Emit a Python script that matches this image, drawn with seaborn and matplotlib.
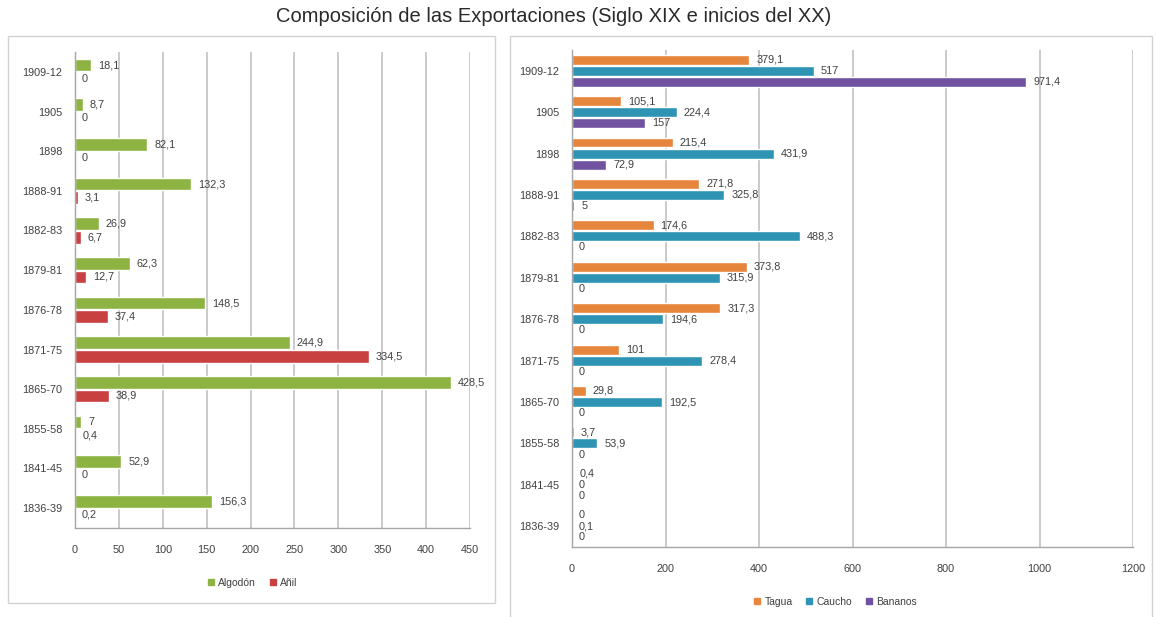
import numpy as np
import pandas as pd
import matplotlib
matplotlib.use("Agg")
import matplotlib.pyplot as plt
from matplotlib.lines import Line2D
from matplotlib.patches import Rectangle
import seaborn as sns

# Periods, listed from the top row down
periods = ["1909-12", "1905", "1898", "1888-91", "1882-83", "1879-81",
           "1876-78", "1871-75", "1865-70", "1855-58", "1841-45", "1836-39"]

# Left panel series
algodon = [18.1, 8.7, 82.1, 132.3, 26.9, 62.3, 148.5, 244.9, 428.5, 7, 52.9, 156.3]
anil = [0, 0, 0, 3.1, 6.7, 12.7, 37.4, 334.5, 38.9, 0.4, 0, 0.2]

# Right panel series
tagua = [379.1, 105.1, 215.4, 271.8, 174.6, 373.8, 317.3, 101, 29.8, 3.7, 0.4, 0]
caucho = [517, 224.4, 431.9, 325.8, 488.3, 315.9, 194.6, 278.4, 192.5, 53.9, 0, 0.1]
bananos = [971.4, 157, 72.9, 5, 0, 0, 0, 0, 0, 0, 0, 0]

left_names = ["Algodón", "Añil"]
right_names = ["Tagua", "Caucho", "Bananos"]
left_ticks = list(range(0, 451, 50))
right_ticks = list(range(0, 1201, 200))

title = "Composición de las Exportaciones (Siglo XIX e inicios del XX)"

left_colors = ["#8DB443", "#C8403F"]
right_colors = ["#E6853C", "#2F93B4", "#7052A0"]

sns.set_style("white")
plt.rcParams["font.family"] = ["Liberation Sans Narrow", "Liberation Sans", "DejaVu Sans"]

TXT = "#404040"
AXC = "#A6A6A6"
GRID = "#CACACA"


def fmt(v):
    return f"{v:g}".replace(".", ",")


def long_table(series, names):
    frames = []
    for name, vals in zip(names, series):
        frames.append(pd.DataFrame({"Periodo": periods, "Valor": vals, "Producto": name}))
    return pd.concat(frames, ignore_index=True)


def panel(ax, series, names, colors, ticks, width, gap):
    df = long_table(series, names)
    sns.barplot(data=df, y="Periodo", x="Valor", hue="Producto", order=periods,
                hue_order=names, palette=colors, orient="h", width=width, gap=gap,
                saturation=1, errorbar=None, legend=False, ax=ax)
    for cont, vals in zip(ax.containers, series):
        ax.bar_label(cont, labels=[fmt(v) for v in vals], padding=5,
                     fontsize=7.8, color=TXT)
    ax.set_xlim(ticks[0], ticks[-1])
    ax.set_xticks(ticks)
    ax.set_xlabel("")
    ax.set_ylabel("")
    ax.grid(axis="x", color=GRID, lw=1.4)
    ax.grid(axis="y", visible=False)
    ax.set_axisbelow(True)
    for s in ("top", "right"):
        ax.spines[s].set_visible(False)
    for s in ("left", "bottom"):
        ax.spines[s].set_color(AXC)
        ax.spines[s].set_linewidth(1)
    ax.set_yticks(np.arange(-0.5, len(periods), 1), minor=True)
    ax.tick_params(axis="y", which="major", length=0, labelsize=7.8, labelcolor=TXT, pad=9)
    ax.tick_params(axis="y", which="minor", length=4, color=AXC, width=1)
    ax.tick_params(axis="x", length=4, color=AXC, labelsize=7.8, labelcolor=TXT, pad=8)


W, H = 1156, 617
fig = plt.figure(figsize=(W / 100, H / 100), dpi=100)


def fx(px):
    return px / W


def fy(py):
    return 1 - py / H


# Panel frames
fig.add_artist(Rectangle((fx(8), fy(603)), fx(495 - 8), (603 - 36) / H,
                         transform=fig.transFigure, fill=False, ec="#D2D2D2", lw=1))
fig.add_artist(Rectangle((fx(510), fy(620)), fx(1152 - 510), (620 - 36) / H,
                         transform=fig.transFigure, fill=False, ec="#D2D2D2", lw=1))

ax1 = fig.add_axes([fx(75), fy(528), fx(470 - 75), (528 - 52) / H])
ax2 = fig.add_axes([fx(572), fy(547), fx(1133 - 572), (547 - 50) / H])

panel(ax1, [algodon, anil], left_names, left_colors, left_ticks, width=0.68, gap=0.05)
panel(ax2, [tagua, caucho, bananos], right_names, right_colors, right_ticks, width=0.8, gap=0.1)

fig.text(fx(554), fy(17), title, ha="center", va="center", fontsize=14.5, color="#2A2A2A")


def legend(names, colors, x, y):
    handles = [Line2D([], [], ls="", marker="s", markersize=5, color=c) for c in colors]
    fig.legend(handles, names, loc="center", bbox_to_anchor=(x, y), ncol=len(names),
               frameon=False, fontsize=7.5, handlelength=0.8, handletextpad=0.3,
               columnspacing=1.2, labelcolor=TXT)


legend(left_names, left_colors, fx(252), fy(583))
legend(right_names, right_colors, fx(835), fy(602))

fig.savefig("out.png", dpi=100, facecolor="white")
